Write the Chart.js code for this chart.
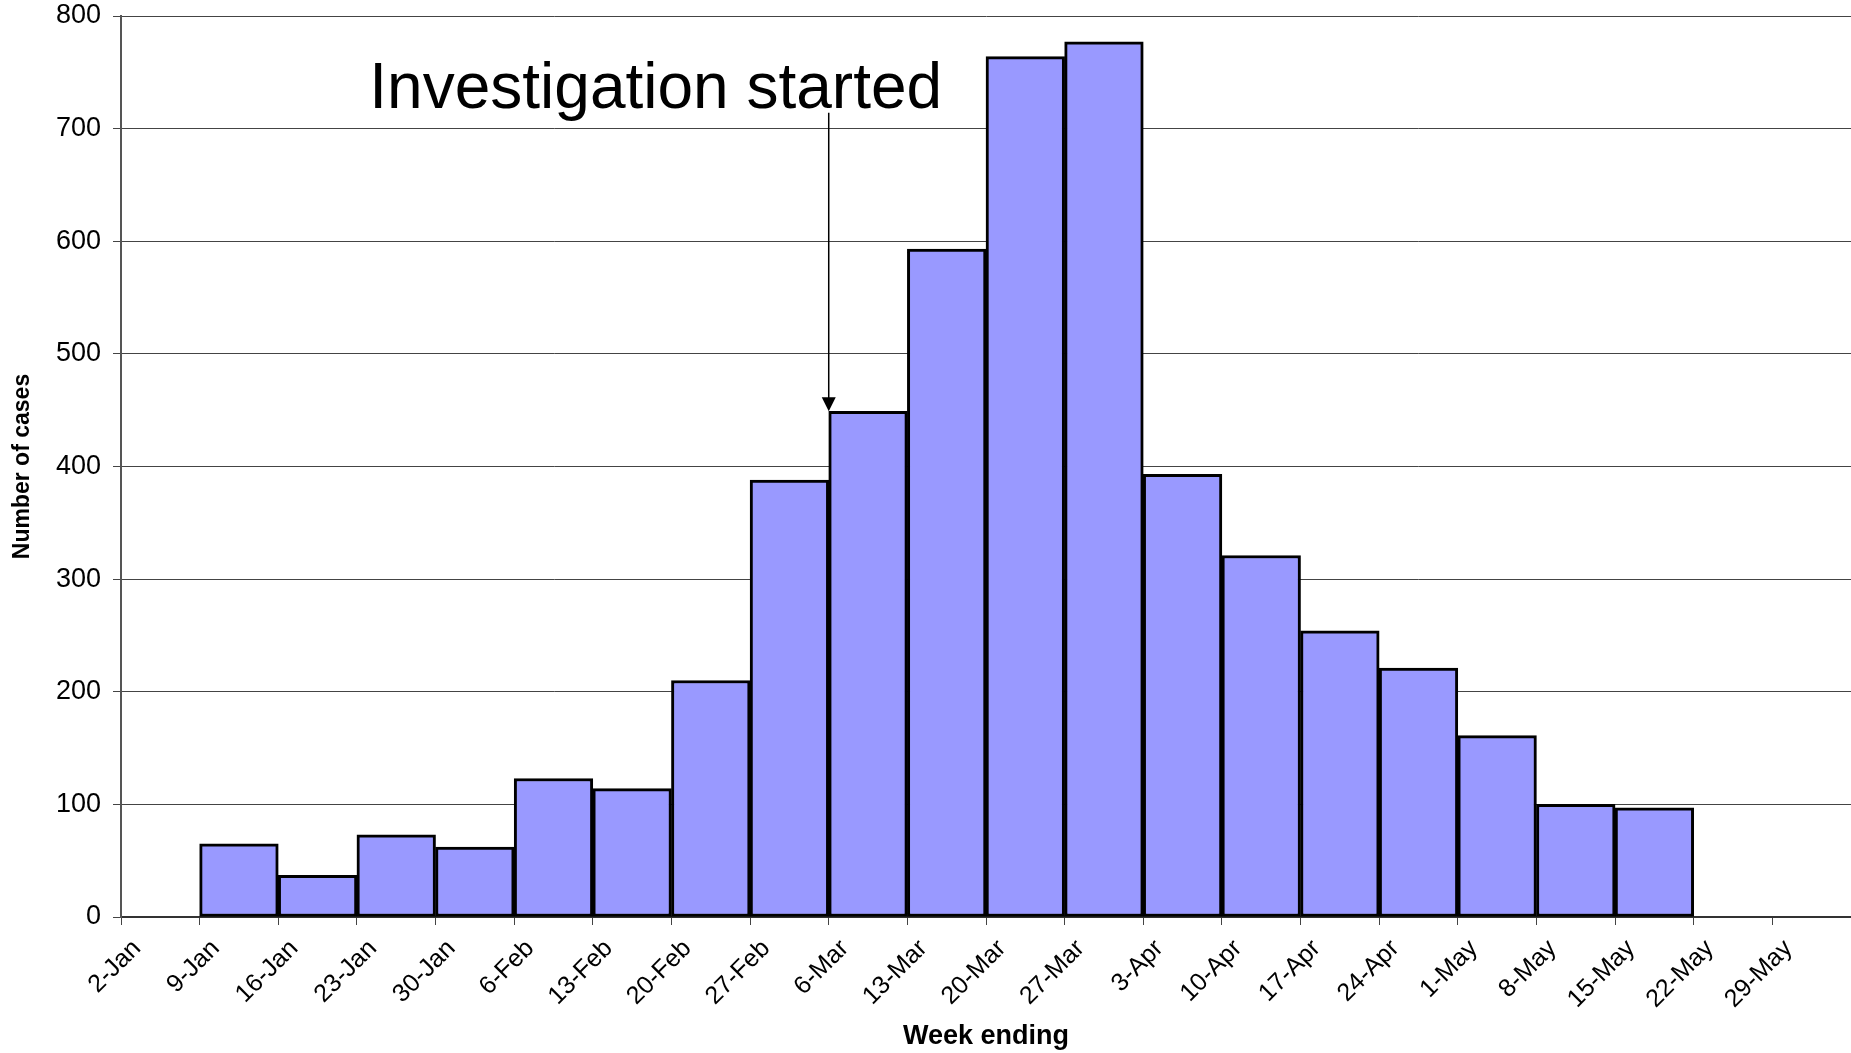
<!DOCTYPE html>
<html>
<head>
<meta charset="utf-8">
<script src="https://cdn.jsdelivr.net/npm/chart.js@4/dist/chart.umd.min.js"></script>
<style>
    html, body { margin: 0; padding: 0; background: #fff; }
    .wrap { width: 1851px; height: 1053px; position: relative; }
</style>
</head>
<body>
<div class="wrap"><canvas id="epiChart"></canvas></div>
<script>
// week-ending labels, one per tick (bars sit between ticks)
const WEEKS = [
    '2-Jan', '9-Jan', '16-Jan', '23-Jan', '30-Jan', '6-Feb', '13-Feb', '20-Feb',
    '27-Feb', '6-Mar', '13-Mar', '20-Mar', '27-Mar', '3-Apr', '10-Apr', '17-Apr',
    '24-Apr', '1-May', '8-May', '15-May', '22-May', '29-May'
];

// cases per week, first bar starts at 9-Jan
const FIRST_WEEK = 1;
const CASES = [65, 37, 73, 62, 123, 114, 210, 388, 449, 593, 764, 777, 393, 321, 254, 221, 161, 100, 97];

const Y_TICKS = [0, 100, 200, 300, 400, 500, 600, 700, 800];

const NOTE_TEXT = 'Investigation started';
const NOTE_WEEK = '6-Mar';

const FONT = '"Liberation Sans", Arial, sans-serif';
const BAR_FILL = '#9999ff';

const bars = CASES.map((v, i) => ({ x: FIRST_WEEK + i + 0.5, y: v }));

// arrow + label for the investigation start
const notePlugin = {
    id: 'note',
    afterDatasetsDraw(chart) {
        const { ctx, scales: { x, y } } = chart;
        const wk = WEEKS.indexOf(NOTE_WEEK);
        const target = CASES[wk - FIRST_WEEK];
        const ax = x.getPixelForValue(wk);
        const yTop = y.getPixelForValue(714);
        const yTip = y.getPixelForValue(target);

        ctx.save();
        ctx.strokeStyle = '#000';
        ctx.fillStyle = '#000';
        ctx.lineWidth = 1.5;
        ctx.beginPath();
        ctx.moveTo(ax, yTop);
        ctx.lineTo(ax, yTip - 12);
        ctx.stroke();
        ctx.beginPath();
        ctx.moveTo(ax - 7, yTip - 14);
        ctx.lineTo(ax + 7, yTip - 14);
        ctx.lineTo(ax, yTip);
        ctx.closePath();
        ctx.fill();

        ctx.font = `64px ${FONT}`;
        ctx.textAlign = 'center';
        ctx.textBaseline = 'alphabetic';
        ctx.fillText(NOTE_TEXT, x.getPixelForValue(6.8), y.getPixelForValue(718));
        ctx.restore();
    }
};

new Chart(document.getElementById('epiChart'), {
    type: 'bar',
    data: {
        datasets: [{
            data: bars,
            backgroundColor: BAR_FILL,
            borderColor: '#000',
            borderWidth: 3,
            borderSkipped: false,
            barPercentage: 1,
            categoryPercentage: 1
        }]
    },
    options: {
        responsive: true,
        maintainAspectRatio: false,
        animation: false,
        layout: { padding: { top: 16, right: 0, left: 0, bottom: 0 } },
        plugins: {
            legend: { display: false },
            tooltip: { enabled: false }
        },
        scales: {
            x: {
                type: 'linear',
                offset: false,
                min: 0,
                max: WEEKS.length,
                afterBuildTicks: (s) => { s.ticks = WEEKS.map((_, i) => ({ value: i })); },
                afterFit: (s) => { s.height = 136; s.paddingLeft = 0; s.paddingRight = 0; },
                ticks: {
                    autoSkip: false,
                    maxRotation: 45,
                    minRotation: 45,
                    labelOffset: 16,
                    padding: 9,
                    color: '#000',
                    font: { family: FONT, size: 25 },
                    callback: (v) => WEEKS[v] || ''
                },
                grid: {
                    offset: false,
                    drawOnChartArea: false,
                    drawTicks: true,
                    tickLength: 8,
                    color: '#444',
                    lineWidth: 1
                },
                border: { display: true, color: '#333', width: 2 },
                title: {
                    display: true,
                    text: 'Week ending',
                    color: '#000',
                    padding: { top: 0, bottom: 0 },
                    font: { family: FONT, size: 27, weight: 'bold' }
                }
            },
            y: {
                min: 0,
                max: 800,
                afterBuildTicks: (s) => { s.ticks = Y_TICKS.map(v => ({ value: v })); },
                afterFit: (s) => { s.width = 121; s.paddingTop = 0; s.paddingBottom = 0; },
                ticks: {
                    padding: 12,
                    color: '#000',
                    font: { family: FONT, size: 27 }
                },
                grid: {
                    color: '#444',
                    lineWidth: 1,
                    tickLength: 8
                },
                border: { display: true, color: '#555', width: 2 },
                title: {
                    display: true,
                    text: 'Number of cases',
                    color: '#000',
                    padding: { top: 9, bottom: 0 },
                    font: { family: FONT, size: 23, weight: 'bold' }
                }
            }
        }
    },
    plugins: [notePlugin]
});
</script>
</body>
</html>
